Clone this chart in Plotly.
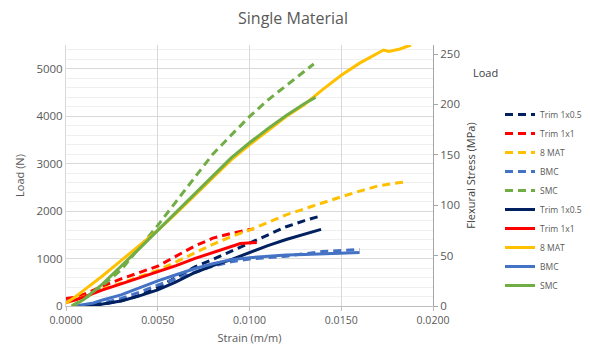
import plotly.graph_objects as go

# ---- data: Load (N) vs strain (dashed, left axis) ----
trim05_load_x = [0.0008, 0.002, 0.003, 0.004, 0.005, 0.006, 0.007, 0.008, 0.009, 0.010, 0.011, 0.012, 0.013, 0.0139]
trim05_load_y = [0, 40, 110, 220, 390, 600, 820, 980, 1150, 1320, 1500, 1670, 1800, 1900]

trim1_load_x = [0.0, 0.0005, 0.001, 0.002, 0.003, 0.004, 0.005, 0.006, 0.007, 0.008, 0.009, 0.010, 0.0102]
trim1_load_y = [160, 180, 250, 420, 570, 700, 840, 1050, 1260, 1430, 1530, 1610, 1620]

mat8_load_x = [0.0, 0.001, 0.002, 0.003, 0.004, 0.005, 0.006, 0.007, 0.008, 0.009, 0.010, 0.011, 0.012, 0.013, 0.014, 0.015, 0.016, 0.017, 0.018, 0.0186]
mat8_load_y = [60, 200, 360, 480, 620, 750, 930, 1120, 1300, 1460, 1600, 1760, 1920, 2050, 2180, 2300, 2420, 2530, 2590, 2620]

bmc_load_x = [0.0008, 0.002, 0.003, 0.004, 0.005, 0.006, 0.007, 0.008, 0.009, 0.010, 0.011, 0.012, 0.013, 0.014, 0.015, 0.016]
bmc_load_y = [0, 60, 160, 290, 440, 570, 700, 840, 930, 990, 1020, 1050, 1100, 1150, 1170, 1190]

smc_load_x = [0.0003, 0.0015, 0.003, 0.004, 0.005, 0.006, 0.007, 0.008, 0.009, 0.010, 0.011, 0.012, 0.013, 0.0135]
smc_load_y = [0, 270, 760, 1220, 1700, 2200, 2700, 3200, 3600, 3990, 4340, 4640, 4930, 5100]

# ---- data: Flexural stress (MPa) vs strain (solid, right axis) ----
trim05_st_x = [0.001, 0.002, 0.003, 0.004, 0.005, 0.006, 0.007, 0.008, 0.009, 0.010, 0.011, 0.012, 0.013, 0.0139]
trim05_st_y = [0, 2, 5, 10, 16, 24, 33, 40, 46, 53, 60, 66, 71, 76]

trim1_st_x = [0.0, 0.0005, 0.001, 0.002, 0.003, 0.004, 0.005, 0.006, 0.007, 0.0085, 0.009, 0.0095, 0.0104]
trim1_st_y = [4, 6, 9, 16, 22, 28, 34, 40, 47, 56, 59, 62, 63]

mat8_st_x = [0.0, 0.0005, 0.001, 0.002, 0.003, 0.004, 0.005, 0.006, 0.007, 0.008, 0.009, 0.010, 0.011, 0.012, 0.013, 0.0134, 0.014, 0.015, 0.016, 0.0165, 0.017, 0.0173, 0.0176, 0.0179, 0.0182, 0.0185, 0.0188]
mat8_st_y = [3, 9, 16, 30, 45, 60, 75, 92, 110, 127, 145, 160, 174, 188, 200, 206, 215, 229, 241, 246, 251, 254, 252.5, 253.5, 255, 257, 259]

bmc_st_x = [0.0005, 0.0015, 0.002, 0.003, 0.004, 0.005, 0.006, 0.007, 0.008, 0.009, 0.010, 0.011, 0.012, 0.013, 0.014, 0.015, 0.016]
bmc_st_y = [0, 3, 6, 11, 18, 25, 31, 37, 42, 46, 48, 49.5, 50.5, 51, 51.5, 52, 53]

smc_st_x = [0.0004, 0.001, 0.002, 0.003, 0.004, 0.005, 0.006, 0.007, 0.008, 0.009, 0.010, 0.011, 0.012, 0.013, 0.0136]
smc_st_y = [0, 7, 22, 39, 57, 75, 93, 111, 129, 147, 162, 176, 189, 201, 207]

names = ["Trim 1x0.5", "Trim 1x1", "8 MAT", "BMC", "SMC"]
colors = ["#002060", "#FF0000", "#FFC000", "#4472C4", "#70AD47"]
load_series = [(trim05_load_x, trim05_load_y), (trim1_load_x, trim1_load_y), (mat8_load_x, mat8_load_y),
               (bmc_load_x, bmc_load_y), (smc_load_x, smc_load_y)]
stress_series = [(trim05_st_x, trim05_st_y), (trim1_st_x, trim1_st_y), (mat8_st_x, mat8_st_y),
                 (bmc_st_x, bmc_st_y), (smc_st_x, smc_st_y)]

FONT = "Open Sans"
GRAY = "#595959"

fig = go.Figure()
for n, c, (xs, ys) in zip(names, colors, load_series):
    fig.add_trace(go.Scatter(x=xs, y=ys, mode="lines", name=n, yaxis="y",
                             line=dict(color=c, width=3, dash="8px,5px")))
for n, c, (xs, ys) in zip(names, colors, stress_series):
    fig.add_trace(go.Scatter(x=xs, y=ys, mode="lines", name=n, yaxis="y2",
                             line=dict(color=c, width=3)))

fig.update_layout(
    width=590, height=360,
    margin=dict(l=66, r=157, t=45, b=54, autoexpand=False),
    paper_bgcolor="white", plot_bgcolor="white",
    font=dict(family=FONT, color=GRAY, size=10),
    title=dict(text="Single Material", x=293 / 590, xanchor="center", y=1 - 18 / 360, yanchor="middle",
               font=dict(size=16, color=GRAY, family=FONT)),
    xaxis=dict(range=[0, 0.02], dtick=0.005, tickformat=".4f", showgrid=True, gridcolor="#D9D9D9",
               zeroline=False, showline=True, linecolor="#BFBFBF", ticks="outside", ticklen=4,
               tickcolor="#BFBFBF", automargin=False,
               title=dict(text="Strain (m/m)", font=dict(size=11, color=GRAY), standoff=8),
               tickfont=dict(size=10.5, color=GRAY)),
    yaxis=dict(range=[0, 5500], dtick=1000, showgrid=True, gridcolor="#D9D9D9", zeroline=False,
               showline=True, linecolor="#D9D9D9", automargin=False,
               minor=dict(dtick=200, showgrid=True, gridcolor="#EFEFEF"),
               title=dict(text="Load (N)", font=dict(size=11, color=GRAY), standoff=9),
               tickfont=dict(size=11.5, color=GRAY)),
    yaxis2=dict(range=[0, 259], tickvals=[0, 50, 100, 150, 200, 250], overlaying="y", side="right",
                showgrid=False, zeroline=False, showline=True, linecolor="#A6A6A6", automargin=False,
                ticks="outside", ticklen=4, tickcolor="#A6A6A6",
                title=dict(text="Flexural Stress (MPa)", font=dict(size=11, color="#404040"), standoff=8),
                tickfont=dict(size=11.5, color=GRAY)),
    legend=dict(x=(500 - 66) / 367, y=(306 - 100) / 261,
                xanchor="left", yanchor="top", font=dict(size=8.5, color=GRAY),
                bgcolor="rgba(0,0,0,0)", itemwidth=30, maxheight=1),
    showlegend=True,
)
fig.add_annotation(text="Load", xref="paper", yref="paper", x=(485 - 66) / 367, y=(306 - 72) / 261,
                   xanchor="center", yanchor="middle", showarrow=False,
                   font=dict(size=11, color="#404040"))

fig.write_html("out.html", config={"displayModeBar": False},
               post_script="document.body.style.margin='0';")
